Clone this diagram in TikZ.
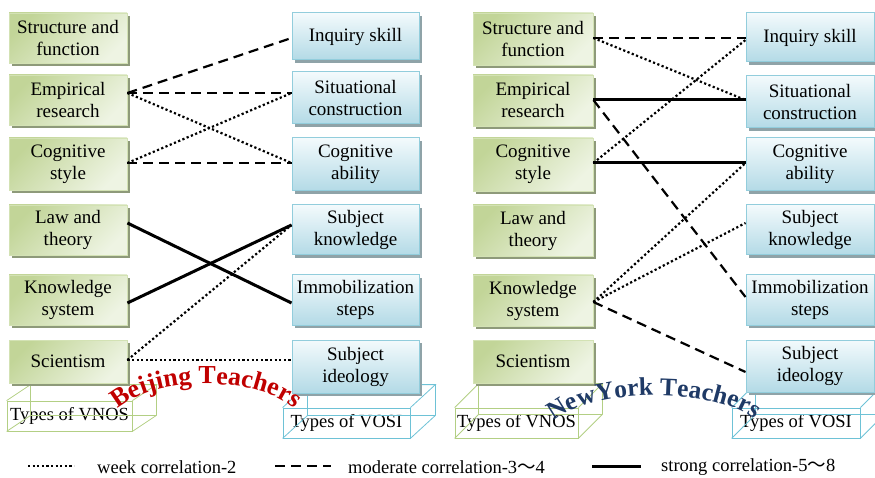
\documentclass[tikz,border=0pt]{standalone}
\usepackage{fontspec}
\setmainfont{Liberation Serif}
\newfontfamily\cjk{Noto Sans CJK SC}
\usetikzlibrary{shadows,decorations.text,calc}
\definecolor{gdark}{HTML}{C2D598}
\definecolor{glight}{HTML}{EEF4E3}
\definecolor{gborder}{HTML}{D3E2B4}
\definecolor{gshadow}{HTML}{8E9A7A}
\definecolor{btop}{HTML}{F3FAFC}
\definecolor{bbot}{HTML}{B3DAE6}
\definecolor{bborder}{HTML}{92CDDC}
\definecolor{bshadow}{HTML}{8FA3A8}
\definecolor{gcube}{HTML}{B3CF84}
\definecolor{bcube}{HTML}{6EC2D6}
\definecolor{bjred}{HTML}{C00000}
\definecolor{nyblue}{HTML}{1F3A66}
\newcommand\mycube[3]{%
  \draw[#3] (#1.north west) -- ($(#1.north west)+(#2)$) -- ($(#1.north east)+(#2)$) -- (#1.north east);
  \draw[#3] ($(#1.north east)+(#2)$) -- ($(#1.south east)+(#2)$) -- (#1.south east);
  \draw[#3] ($(#1.north west)+(#2)$) -- ($(#1.south west)+(#2)$) -- ($(#1.south east)+(#2)$);
  \draw[#3] (#1.south west) -- ($(#1.south west)+(#2)$);
}
\begin{document}
\begin{tikzpicture}[x=1pt,y=-1pt,
  vbox/.style={rectangle, draw=gborder, line width=0.8pt, top color=gdark, bottom color=glight, shading angle=45,
    general shadow={fill=gshadow, shadow xshift=3pt, shadow yshift=-3pt},
    align=center, font=\fontsize{19}{22}\selectfont, inner sep=1pt, minimum width=118pt, minimum height=50pt},
  sbox/.style={rectangle, draw=bborder, line width=1pt, top color=btop, bottom color=bbot,
    general shadow={fill=bshadow, shadow xshift=3pt, shadow yshift=-3pt},
    align=center, font=\fontsize{19}{22}\selectfont, inner sep=1pt, minimum width=127pt, minimum height=50pt},
  gface/.style={rectangle, draw=gcube, line width=0.8pt, font=\fontsize{18.5}{20}\selectfont, inner sep=0pt, minimum height=30pt},
  bface/.style={rectangle, draw=bcube, line width=0.8pt, font=\fontsize{18.5}{20}\selectfont, inner sep=0pt, minimum height=30pt},
  gline/.style={draw=gcube, line width=0.8pt},
  bline/.style={draw=bcube, line width=0.8pt},
  weak/.style={line width=2.2pt, dash pattern=on 2.2pt off 2.4pt},
  moderate/.style={line width=2.2pt, dash pattern=on 10pt off 6pt},
  strong/.style={line width=3pt},
  legtext/.style={anchor=west, inner sep=0pt, font=\fontsize{18.5}{20}\selectfont}
]
\useasboundingbox (0,0) rectangle (875,478);

% cubes (behind boxes)
\node[gface, minimum width=125pt] (cubeA) at (69.5,416) {Types of VNOS};
\mycube{cubeA}{24,-16}{gline}
\node[bface, minimum width=127pt] (cubeB) at (346.5,423) {Types of VOSI};
\mycube{cubeB}{25,-23}{bline}
\node[gface, minimum width=123pt] (cubeC) at (516.5,423) {Types of VNOS};
\mycube{cubeC}{24,-24}{gline}
\node[bface, minimum width=128pt] (cubeD) at (796,423) {Types of VOSI};
\mycube{cubeD}{24,-24}{bline}

% left panel, VNOS
\node[vbox] (sfA) at (68,38) {Structure and\\function};
\node[vbox] (erA) at (68,100) {Empirical\\research};
\node[vbox, minimum height=52pt] (csA) at (68,164) {Cognitive\\style};
\node[vbox] (ltA) at (68,230) {Law and\\theory};
\node[vbox] (ksA) at (68,300) {Knowledge\\system};
\node[vbox, minimum height=43pt] (scA) at (68,361.5) {Scientism};
% left panel, VOSI
\node[sbox, minimum height=47pt] (isA) at (355.5,36.5) {Inquiry skill};
\node[sbox, minimum height=52pt] (sitA) at (355.5,98) {Situational\\construction};
\node[sbox, minimum height=53pt] (caA) at (355.5,164.5) {Cognitive\\ability};
\node[sbox] (skA) at (355.5,230) {Subject\\knowledge};
\node[sbox] (imA) at (355.5,300) {Immobilization\\steps};
\node[sbox, minimum height=53pt] (siA) at (355.5,366.5) {Subject\\ideology};

% right panel, VNOS
\node[vbox, minimum width=120pt, minimum height=52pt] (sfB) at (533,39) {Structure and\\function};
\node[vbox, minimum width=120pt, minimum height=51pt] (erB) at (533,100.5) {Empirical\\research};
\node[vbox, minimum width=120pt, minimum height=53pt] (csB) at (533,164.5) {Cognitive\\style};
\node[vbox, minimum width=120pt, minimum height=51pt] (ltB) at (533,230.5) {Law and\\theory};
\node[vbox, minimum width=120pt, minimum height=51pt] (ksB) at (533,300.5) {Knowledge\\system};
\node[vbox, minimum width=120pt, minimum height=43pt] (scB) at (533,361.5) {Scientism};
% right panel, VOSI
\node[sbox, minimum width=128pt, minimum height=49pt] (isB) at (810,37.5) {Inquiry skill};
\node[sbox, minimum width=128pt, minimum height=52pt] (sitB) at (810,102) {Situational\\construction};
\node[sbox, minimum width=128pt, minimum height=53pt] (caB) at (810,164.5) {Cognitive\\ability};
\node[sbox, minimum width=128pt] (skB) at (810,230) {Subject\\knowledge};
\node[sbox, minimum width=128pt] (imB) at (810,300) {Immobilization\\steps};
\node[sbox, minimum width=128pt, minimum height=52pt] (siB) at (810,366) {Subject\\ideology};

% left connectors
\draw[moderate] (erA.east |- 0,93) -- (isA.west |- 0,38);
\draw[moderate] (erA.east |- 0,93) -- (sitA.west |- 0,93);
\draw[weak] (erA.east |- 0,93) -- (caA.west |- 0,163);
\draw[weak] (csA.east |- 0,163) -- (sitA.west |- 0,93);
\draw[moderate] (csA.east |- 0,163) -- (caA.west |- 0,163);
\draw[strong] (ltA.east |- 0,223) -- (imA.west |- 0,303);
\draw[strong] (ksA.east |- 0,303) -- (skA.west |- 0,225);
\draw[weak] (scA.east |- 0,360) -- (skA.west |- 0,225);
\draw[weak] (scA.east |- 0,360) -- (siA.west |- 0,360);

% right connectors
\draw[moderate] (sfB.east |- 0,38) -- (isB.west |- 0,38);
\draw[weak] (sfB.east |- 0,38) -- (sitB.west |- 0,100);
\draw[strong] (erB.east |- 0,100) -- (sitB.west |- 0,100);
\draw[moderate] (erB.east |- 0,100) -- (imB.west |- 0,297);
\draw[weak] (csB.east |- 0,163) -- (isB.west |- 0,40);
\draw[strong] (csB.east |- 0,163) -- (caB.west |- 0,163);
\draw[weak] (ksB.east |- 0,302) -- (caB.west |- 0,163);
\draw[weak] (ksB.east |- 0,302) -- (skB.west |- 0,223);
\draw[moderate] (ksB.east |- 0,302) -- (siB.west |- 0,372);

% curved titles
\path[decorate, decoration={text along path, text align=center, text color=bjred,
  text={|\fontsize{26}{30}\selectfont\bfseries|Beijing Teachers}}]
  (113,414) .. controls (146,374) and (266,374) .. (299,414);
\path[decorate, decoration={text along path, text align=center, text color=nyblue,
  text={|\fontsize{25.5}{30}\selectfont\bfseries|NewYork Teachers}}]
  (547,428) .. controls (580,385) and (728,385) .. (761,426);

% legend
\coordinate (l1a) at (28,466); \coordinate (l1b) at (74,466);
\coordinate (l2a) at (275,466); \coordinate (l2b) at (331,466);
\coordinate (l3a) at (592,466); \coordinate (l3b) at (641,466);
\draw[weak] (l1a) -- (l1b);
\draw[moderate] (l2a) -- (l2b);
\draw[strong] (l3a) -- (l3b);
\node[legtext] (t1) at (97,467) {week correlation-2};
\node[legtext] (t2) at (348,467) {moderate correlation-3{\cjk ～}4};
\node[legtext] (t3) at (661,467) {strong correlation-5{\cjk ～}8};
\end{tikzpicture}
\end{document}
